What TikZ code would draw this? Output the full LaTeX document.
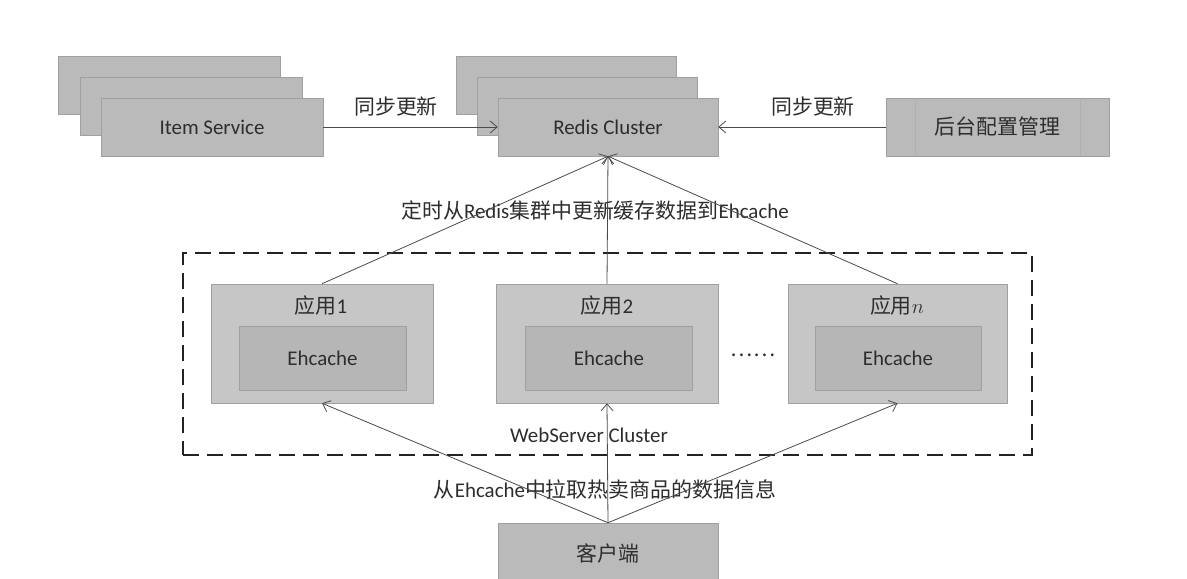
\documentclass[tikz,border=0pt]{standalone}
\usepackage{fontspec}
\setmainfont{Carlito}
\newfontfamily\cjk{Noto Sans CJK SC}
\usetikzlibrary{arrows.meta}
\definecolor{boxfill}{RGB}{186,186,186}
\definecolor{appfill}{RGB}{198,198,198}
\definecolor{cachefill}{RGB}{182,182,182}
\definecolor{boxline}{RGB}{160,160,160}
\definecolor{faintline}{RGB}{175,175,175}
\definecolor{txt}{RGB}{45,45,45}
\definecolor{linec}{RGB}{75,75,75}
\definecolor{dashc}{RGB}{35,35,35}
\newcommand\dgfont{\fontsize{21}{25}\selectfont}
\begin{document}
\begin{tikzpicture}[x=1bp,y=-1bp,
  box/.style={draw=boxline, line width=0.5bp, fill=boxfill, inner sep=0pt,
    minimum height=58bp, minimum width=222bp, font=\dgfont, text=txt},
  app/.style={draw=boxline, line width=0.5bp, fill=appfill, inner sep=0pt,
    minimum height=119bp, minimum width=222bp},
  cache/.style={draw=boxline, line width=0.5bp, fill=cachefill, inner sep=0pt,
    minimum height=64bp, minimum width=167bp, font=\dgfont, text=txt},
  conn/.style={draw=linec, line width=0.8bp,
    -{Straight Barb[length=7bp,width=12bp,line width=0.8bp]}},
  lbl/.style={font=\dgfont, text=txt, inner sep=0pt},
  cluster/.style={draw=dashc, line width=2.5bp, dash pattern=on 16bp off 8bp,
    minimum width=849bp, minimum height=202bp, inner sep=0pt}
]
\useasboundingbox (0,0) rectangle (1187,579);
\fill[white] (0,0) rectangle (1187,579);

% Item Service stack
\node[box] (itemB) at (169,85) {};
\node[box] (itemM) at (191,106) {};
\node[box] (item) at (212,127) {Item Service};

% Redis Cluster stack
\node[box, minimum width=220bp] (redisB) at (566,85) {};
\node[box, minimum width=220bp] (redisM) at (587,106) {};
\node[box, minimum width=220bp] (redis) at (608,127) {Redis Cluster};

% admin box
\node[box, minimum width=223bp] (admin) at (997.5,127) {{\cjk 后台配置管理}};
\draw[faintline, line width=0.4bp] ([xshift=29bp]admin.north west) -- ([xshift=29bp]admin.south west);
\draw[faintline, line width=0.4bp] ([xshift=-29bp]admin.north east) -- ([xshift=-29bp]admin.south east);

% top arrows
\draw[conn] (item) -- (redis);
\draw[conn] (admin) -- (redis);
\node[lbl] (sync1) at (396,107) {{\cjk 同步更新}};
\node[lbl] (sync2) at (813,107) {{\cjk 同步更新}};

% cluster
\node[cluster] (web) at (607.5,354) {};

% apps
\node[app] (app1) at (322,343.5) {};
\node[cache] (c1) at (322.5,358) {Ehcache};
\node[lbl] (a1) at (321,306) {{\cjk 应用}1};

\node[app] (app2) at (607,343.5) {};
\node[cache] (c2) at (609,358) {Ehcache};
\node[lbl] (a2) at (607,306) {{\cjk 应用}2};

\node[app, minimum width=219bp] (appn) at (897.5,343.5) {};
\node[cache, minimum width=166bp] (cn) at (898,358) {Ehcache};
\node[lbl] (an) at (897,306) {{\cjk 应用}$n$};

\node[lbl] (dots) at (753,355) {{\cjk ……}};

\node[lbl] (webl) at (589,435) {WebServer Cluster};

% labels
\node[lbl] (upd) at (595,211) {{\cjk 定时从}Redis{\cjk 集群中更新缓存数据到}Ehcache};
\node[lbl] (pull) at (605,489) {{\cjk 从}Ehcache{\cjk 中拉取热卖商品的数据信息}};

% client
\node[box, minimum width=220bp, minimum height=62bp] (client) at (608,554) {{\cjk 客户端}};

% connectors to redis
\draw[conn] (app1.north) -- (redis.south);
\draw[conn] (app2.north) -- (redis.south);
\draw[conn] (appn.north) -- (redis.south);

% connectors from client
\draw[conn] (client.north) -- (app1.south);
\draw[conn] (client.north) -- (app2.south);
\draw[conn] (client.north) -- (appn.south);
\end{tikzpicture}
\end{document}
